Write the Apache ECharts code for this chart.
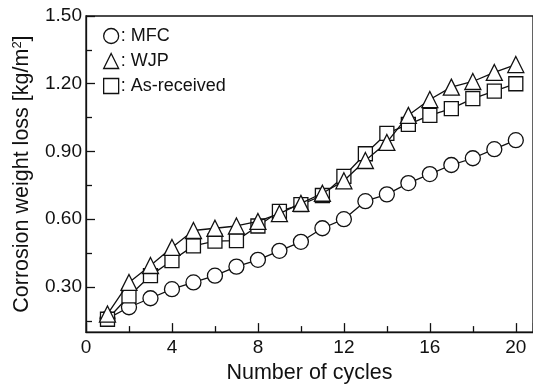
<!DOCTYPE html>
<html>
<head>
<meta charset="utf-8">
<script src="https://cdn.jsdelivr.net/npm/echarts@6/dist/echarts.min.js"></script>
<style>
html,body{margin:0;padding:0;background:#fff;}
#c{width:533px;height:389px;}
</style>
</head>
<body>
<div id="c"></div>
<script>
const cycles = [1,2,3,4,5,6,7,8,9,10,11,12,13,14,15,16,17,18,19,20];
const mfc = [0.16,0.21,0.25,0.29,0.32,0.35,0.39,0.42,0.46,0.50,0.56,0.60,0.68,0.71,0.76,0.80,0.84,0.87,0.91,0.95];
const wjp = [0.18,0.32,0.395,0.475,0.55,0.56,0.57,0.59,0.625,0.67,0.715,0.77,0.86,0.94,1.06,1.13,1.185,1.21,1.25,1.285];
const asReceived = [0.157,0.26,0.35,0.417,0.482,0.503,0.505,0.57,0.635,0.665,0.705,0.79,0.89,0.98,1.02,1.06,1.09,1.134,1.167,1.20];
const yMajor = [0.30,0.60,0.90,1.20,1.50];
const yMinor = [0.15,0.45,0.75,1.05,1.35];
const seriesNames = ['MFC','WJP','As-received'];

const font = 'Liberation Sans, Arial, sans-serif';
const ink = '#111';
function pairs(vals){ return cycles.map((c,i)=>[c, vals[i]]); }
function mk(name, vals, symbol, size, z){
  return {
    name: name, type: 'line', data: pairs(vals), symbol: symbol, symbolSize: size, z: z,
    xAxisIndex: 0, yAxisIndex: 0,
    lineStyle: {color: ink, width: 1.3},
    itemStyle: {color: '#fff', borderColor: ink, borderWidth: 1.3},
    emphasis: {disabled: true}, animation: false
  };
}
const chart = echarts.init(document.getElementById('c'), null, {renderer: 'canvas'});
chart.setOption({
  animation: false,
  backgroundColor: '#fff',
  grid: {left: 86, right: -2, top: 16, bottom: 49, show: true, borderColor: ink, borderWidth: 1.3, backgroundColor: 'transparent'},
  legend: {
    orient: 'vertical', left: 103, top: 27, padding: 0, itemWidth: 15, itemHeight: 15, itemGap: 7,
    data: [{name:'MFC', icon:'circle'},{name:'WJP', icon:'triangle'},{name:'As-received', icon:'rect'}],
    formatter: ': {name}',
    textStyle: {fontFamily: font, fontSize: 18, color: ink, lineHeight: 16, padding: [0,0,0,-3]},
    itemStyle: {color: '#fff', borderColor: ink, borderWidth: 1.3},
    selectedMode: false
  },
  xAxis: [{
    type: 'value', min: 0, max: 20.8, interval: 4,
    name: 'Number of cycles', nameLocation: 'middle', nameGap: 26,
    nameTextStyle: {fontFamily: font, fontSize: 21.5, color: ink},
    axisLine: {show: true, lineStyle: {color: ink, width: 1.3}},
    axisTick: {show: true, inside: true, length: 9, lineStyle: {color: ink, width: 1.3}},
    minorTick: {show: true, splitNumber: 2, length: 6, lineStyle: {color: ink, width: 1.3}},
    axisLabel: {fontFamily: font, fontSize: 19, color: ink, margin: 6, showMaxLabel: false},
    splitLine: {show: false}
  }],
  yAxis: [{
    type: 'value', min: 0.10, max: 1.50,
    name: 'Corrosion weight loss [kg/m{sup|2}]', nameLocation: 'middle', nameGap: 52, nameRotate: 90,
    nameTextStyle: {fontFamily: font, fontSize: 21.5, color: ink, rich: {sup: {fontFamily: font, fontSize: 13, color: ink, padding: [0,0,10,0]}}},
    axisLine: {show: true, lineStyle: {color: ink, width: 1.3}},
    axisTick: {show: true, inside: true, length: 9, customValues: yMajor, lineStyle: {color: ink, width: 1.3}},
    axisLabel: {fontFamily: font, fontSize: 19, color: ink, margin: 4, customValues: yMajor, formatter: v => v.toFixed(2)},
    splitLine: {show: false}
  },{
    type: 'value', min: 0.10, max: 1.50, position: 'left',
    axisLine: {show: false},
    axisTick: {show: true, inside: true, length: 6, customValues: yMinor, lineStyle: {color: ink, width: 1.3}},
    axisLabel: {show: false, customValues: yMinor},
    splitLine: {show: false}
  }],
  series: [
    mk(seriesNames[0], mfc, 'circle', 15, 3),
    mk(seriesNames[2], asReceived, 'rect', 14, 4),
    mk(seriesNames[1], wjp, 'triangle', 16, 5)
  ]
});
</script>
</body>
</html>
